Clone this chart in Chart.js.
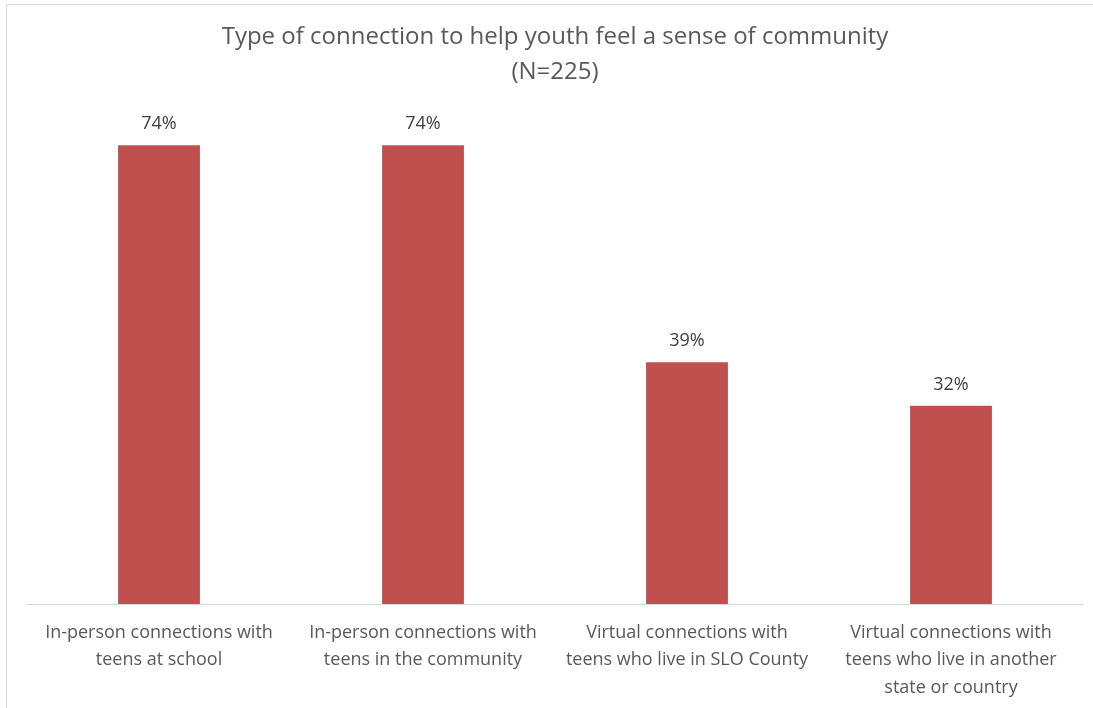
<!DOCTYPE html>
<html>
<head>
<meta charset="utf-8">
<title>Type of connection to help youth feel a sense of community</title>
<script src="https://cdn.jsdelivr.net/npm/chart.js@4.4.1/dist/chart.umd.min.js"></script>
<style>
  html, body { margin: 0; padding: 0; background: #fff; }
  #wrap { position: relative; width: 1093px; height: 708px; }
  #frame {
    position: absolute; left: 6px; top: 4px; right: 0; bottom: 0;
    border-left: 1px solid #d9d9d9; border-top: 1px solid #d9d9d9;
    pointer-events: none;
  }
</style>
</head>
<body>
<div id="wrap">
  <canvas id="myChart" width="1093" height="708"></canvas>
  <div id="frame"></div>
</div>
<script>
  const labels = [
    ['In-person connections with', 'teens at school'],
    ['In-person connections with', 'teens in the community'],
    ['Virtual connections with', 'teens who live in SLO County'],
    ['Virtual connections with', 'teens who live in another', 'state or country'],
  ];
  const percents = [74, 74, 39, 32];
  const titleLines = ['Type of connection to help youth feel a sense of community', '(N=225)'];

  const FONT = '"Open Sans", "Liberation Sans", sans-serif';

  // percent labels above each bar
  const valueLabels = {
    id: 'valueLabels',
    afterDatasetsDraw(chart) {
      const ctx = chart.ctx;
      const meta = chart.getDatasetMeta(0);
      ctx.save();
      ctx.font = '18px ' + FONT;
      ctx.fillStyle = '#404040';
      ctx.textAlign = 'center';
      ctx.textBaseline = 'middle';
      meta.data.forEach((bar, i) => {
        ctx.fillText(percents[i] + '%', bar.x, bar.y - 21);
      });
      ctx.restore();
    }
  };

  const data = {
    labels: labels,
    datasets: [{
      label: 'Percent',
      backgroundColor: '#C0504D',
      borderWidth: 0,
      data: percents,
      barPercentage: 0.31,
      categoryPercentage: 1,
    }]
  };

  const config = {
    type: 'bar',
    data: data,
    options: {
      responsive: false,
      animation: false,
      layout: { padding: { left: 27, right: 10, top: 0, bottom: 7 } },
      plugins: {
        legend: { display: false },
        tooltip: { enabled: false },
        title: {
          display: true,
          text: titleLines,
          color: '#595959',
          font: { family: FONT, size: 24, weight: 'normal', lineHeight: 1.46 },
          padding: { top: 20, bottom: 18 }
        }
      },
      scales: {
        x: {
          grid: { display: false },
          border: { color: '#d9d9d9', width: 1 },
          ticks: {
            color: '#595959',
            font: { family: FONT, size: 18, lineHeight: 1.53 },
            padding: 7,
            maxRotation: 0,
            minRotation: 0,
            autoSkip: false
          },
          // fixed axis band so the baseline sits where the labels need it
          afterFit: (scale) => { scale.height = 97; }
        },
        y: {
          display: false,
          min: 0,
          max: 80
        }
      }
    },
    plugins: [valueLabels]
  };

  const myChart = new Chart(document.getElementById('myChart'), config);
</script>
</body>
</html>
